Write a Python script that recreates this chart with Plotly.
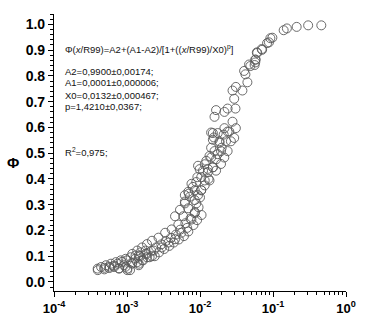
import plotly.graph_objects as go

x_vals = [
    0.000397, 0.000442, 0.000489, 0.000515, 0.000571, 0.000603, 0.000667, 0.000703, 0.00078, 0.000822,
    0.00091, 0.000959, 0.00101, 0.00112, 0.00118, 0.00131, 0.00138, 0.00153, 0.00161, 0.00179,
    0.00188, 0.00101, 0.00145, 0.0022,
    0.000398, 0.00049, 0.000575, 0.000661, 0.000741, 0.000776, 0.000851, 0.000955, 0.001, 0.0011,
    0.00117, 0.00129, 0.00145, 0.00151, 0.00166, 0.00186, 0.00204, 0.00214, 0.0024, 0.00251,
    0.00275, 0.00295, 0.00324, 0.00339, 0.0038, 0.00398, 0.00437, 0.00468, 0.00513, 0.00537,
    0.00603, 0.00631, 0.00692, 0.00741, 0.00813, 0.00851, 0.00912, 0.00955, 0.01, 0.0105,
    0.00118, 0.00138, 0.00161, 0.00145, 0.00188, 0.00179, 0.0022, 0.00232, 0.0027, 0.003,
    0.00333, 0.0037, 0.00409, 0.00455, 0.00505, 0.00558, 0.00589, 0.00667, 0.00689, 0.00762,
    0.00726, 0.00847, 0.00847, 0.00891, 0.00621, 0.00532, 0.00455,
    0.00621, 0.00703, 0.00764, 0.00847, 0.0092, 0.0094, 0.0104, 0.011, 0.0116, 0.0122,
    0.0128, 0.0131, 0.0142, 0.015, 0.0158, 0.0166, 0.0175, 0.0185, 0.0194, 0.0198,
    0.0211, 0.0215, 0.0227, 0.0239, 0.0252, 0.0265, 0.0294, 0.031,
    0.0279, 0.0239, 0.0175, 0.015, 0.0185, 0.0142, 0.0194, 0.0135, 0.0166, 0.0116,
    0.015, 0.0099, 0.0128, 0.0104, 0.0135, 0.0089, 0.0116, 0.008, 0.0104, 0.0069,
    0.0094, 0.0062,
    0.015, 0.0216, 0.0216, 0.0239, 0.0306, 0.0279, 0.0294, 0.031, 0.0381, 0.0446,
    0.0419, 0.0489, 0.0571, 0.0166, 0.0158, 0.0142, 0.0155,
    0.0402, 0.047, 0.0571, 0.0608, 0.071, 0.083, 0.092, 0.14, 0.155, 0.211,
    0.303, 0.459, 0.098, 0.088, 0.07, 0.06, 0.058, 0.056,
]
y_vals = [
    0.052, 0.058, 0.049, 0.065, 0.054, 0.071, 0.058, 0.077, 0.052, 0.084,
    0.065, 0.090, 0.052, 0.096, 0.071, 0.103, 0.077, 0.115, 0.084, 0.122,
    0.096, 0.046, 0.071, 0.100,
    0.046, 0.055, 0.059, 0.063, 0.071, 0.053, 0.078, 0.059, 0.084, 0.046,
    0.075, 0.090, 0.065, 0.100, 0.084, 0.109, 0.096, 0.121, 0.100, 0.134,
    0.115, 0.146, 0.128, 0.159, 0.140, 0.171, 0.153, 0.184, 0.165, 0.203,
    0.178, 0.228, 0.196, 0.246, 0.221, 0.271, 0.240, 0.290, 0.328, 0.260,
    0.109, 0.122, 0.134, 0.103, 0.147, 0.109, 0.160, 0.122, 0.172, 0.134,
    0.191, 0.153, 0.204, 0.166, 0.223, 0.191, 0.255, 0.210, 0.286, 0.242,
    0.331, 0.267, 0.356, 0.305, 0.312, 0.280, 0.255,
    0.305, 0.343, 0.381, 0.318, 0.407, 0.451, 0.356, 0.432, 0.394, 0.470,
    0.439, 0.400, 0.483, 0.445, 0.508, 0.432, 0.496, 0.546, 0.458, 0.521,
    0.572, 0.483, 0.546, 0.508, 0.584, 0.546, 0.559, 0.597,
    0.622, 0.584, 0.578, 0.552, 0.540, 0.521, 0.508, 0.489, 0.476, 0.457,
    0.445, 0.438, 0.426, 0.407, 0.394, 0.388, 0.375, 0.369, 0.356, 0.350,
    0.337, 0.337,
    0.578, 0.597, 0.660, 0.673, 0.673, 0.743, 0.711, 0.757, 0.743, 0.775,
    0.806, 0.838, 0.852, 0.667, 0.641, 0.580, 0.561,
    0.819, 0.844, 0.863, 0.889, 0.901, 0.927, 0.946, 0.977, 0.984, 0.990,
    0.996, 0.996, 0.948, 0.930, 0.904, 0.891, 0.863, 0.842,
]

x_tickvals = [1e-4, 1e-3, 1e-2, 1e-1, 1]
x_ticktext = ["10<sup>-4</sup>", "10<sup>-3</sup>", "10<sup>-2</sup>", "10<sup>-1</sup>", "10<sup>0</sup>"]

fit_lines = [
    "A2=0,9900±0,00174;",
    "A1=0,0001±0,000006;",
    "X0=0,0132±0,000467;",
    "p=1,4210±0,0367;",
]
formula = "Φ(<i>x</i>/R99)=A2+(A1-A2)/[1+((<i>x</i>/R99)/X0)<sup>p</sup>]"
r2_text = "R<sup>2</sup>=0,975;"

fig = go.Figure()
fig.add_trace(go.Scatter(
    x=x_vals, y=y_vals, mode="markers",
    marker=dict(symbol="circle-open", size=9, color="#5a5a5a", line=dict(width=0.9)),
    showlegend=False,
))

tickfont = dict(family="Liberation Sans", size=13, color="black", weight="bold")

fig.update_layout(
    width=368, height=328,
    margin=dict(l=54, r=18, t=14, b=32),
    paper_bgcolor="white", plot_bgcolor="white",
    xaxis=dict(
        type="log", range=[-4, 0],
        tickvals=x_tickvals, ticktext=x_ticktext,
        showline=True, linecolor="black", linewidth=1.2,
        ticks="outside", ticklen=5, tickwidth=1.2, tickcolor="black",
        minor=dict(ticks="outside", ticklen=3, tickcolor="black", dtick="D1", showgrid=False),
        showgrid=False, zeroline=False, tickfont=tickfont,
        ticklabeloverflow="allow",
    ),
    yaxis=dict(
        range=[-0.035, 1.04], dtick=0.1, tick0=0, tickformat=".1f",
        showline=True, linecolor="black", linewidth=1.2,
        ticks="outside", ticklen=5, tickwidth=1.2, tickcolor="black",
        minor=dict(ticks="outside", ticklen=3, tickcolor="black", dtick=0.02, showgrid=False),
        showgrid=False, zeroline=False,
        tickfont=dict(family="Liberation Sans", size=14, color="black", weight="bold"),
    ),
)

annfont = dict(family="Liberation Sans", size=9.5, color="#111111")
fig.add_annotation(xref="paper", yref="paper", x=0.03, y=0.875, text=formula,
                   showarrow=False, xanchor="left", yanchor="middle", font=annfont)
ys = [0.792, 0.751, 0.707, 0.666]
for t, yy in zip(fit_lines, ys):
    fig.add_annotation(xref="paper", yref="paper", x=0.03, y=yy, text=t,
                       showarrow=False, xanchor="left", yanchor="middle", font=annfont)
fig.add_annotation(xref="paper", yref="paper", x=0.03, y=0.502, text=r2_text,
                   showarrow=False, xanchor="left", yanchor="middle", font=annfont)
fig.add_annotation(xref="paper", yref="paper", x=-0.142, y=0.465, text="Φ",
                   showarrow=False, xanchor="center", yanchor="middle",
                   font=dict(family="Liberation Sans", size=15, color="black", weight="bold"))

fig.write_html(
    "out.html",
    config={"displayModeBar": False},
    post_script="document.body.style.margin='0';document.body.style.overflow='hidden';",
)
